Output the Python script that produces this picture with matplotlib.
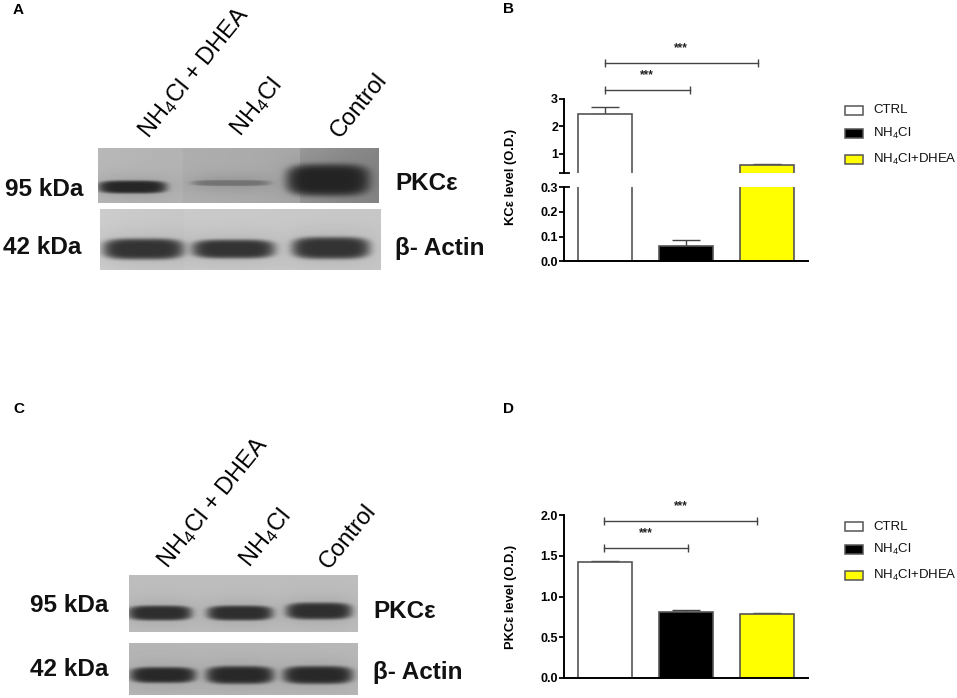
import numpy as np
import matplotlib
matplotlib.use('Agg')
import matplotlib.pyplot as plt
from matplotlib.patches import Rectangle

plt.rcParams['font.family'] = ['Liberation Sans', 'DejaVu Sans']
plt.rcParams['mathtext.default'] = 'regular'

W, H = 957, 698

groups = ['CTRL', 'NH$_4$Cl', 'NH$_4$Cl+DHEA']
colors = ['white', 'black', '#ffff00']

valsB = [2.43, 0.063, 0.60]
errB = [0.27, 0.022, 0.015]
valsD = [1.42, 0.81, 0.78]
errD = [0.022, 0.018, 0.012]

# blot panels: box, background pieces, bands (left, right, y centre, height, band grey)
blotA1 = dict(box=(98, 379, 148, 203),
              bg=[(98, 183, 0.72, 0.70), (183, 300, 0.68, 0.66), (300, 379, 0.60, 0.52)],
              bands=[(98, 167, 187, 13, 0.15), (192, 270, 183, 6, 0.45), (286, 370, 180, 32, 0.14)])
blotA2 = dict(box=(100, 381, 209, 270),
              bg=[(100, 184, 0.80, 0.78), (184, 381, 0.79, 0.78)],
              bands=[(103, 184, 249, 21, 0.20), (192, 275, 249, 19, 0.20), (292, 370, 248, 22, 0.20)])
blotC1 = dict(box=(129, 358, 575, 632),
              bg=[(129, 358, 0.74, 0.74)],
              bands=[(128, 192, 613, 15, 0.18), (207, 273, 613, 15, 0.18), (286, 352, 611, 17, 0.18)])
blotC2 = dict(box=(129, 358, 643, 695),
              bg=[(129, 358, 0.71, 0.72)],
              bands=[(130, 196, 675, 16, 0.16), (206, 274, 675, 18, 0.16), (283, 353, 675, 18, 0.16)])


def draw_blot(ax, blot):
    x0, x1, y0, y1 = blot['box']
    xx, yy = np.meshgrid(np.arange(x0, x1) + 0.5, np.arange(y0, y1) + 0.5)
    img = np.zeros(xx.shape)
    for a, b, g0, g1 in blot['bg']:
        m = (xx >= a) & (xx < b)
        img[m] = (g0 + (g1 - g0) * (xx - a) / (b - a))[m]
    for a, b, yc, h, g in blot['bands']:
        r = np.abs((xx - (a + b) / 2) / ((b - a) / 2)) ** 4 + np.abs((yy - yc) / (h / 2)) ** 3
        alpha = np.exp(-r ** 2)
        glow = 0.10 * np.exp(-(np.abs((xx - (a + b) / 2) / ((b - a) / 2 + 4)) ** 3 + np.abs((yy - yc) / (h / 2 + 7)) ** 2))
        img = img * (1 - glow)
        img = img * (1 - alpha) + g * alpha
    ax.imshow(img, cmap='gray', vmin=0, vmax=1, extent=(x0, x1, y1, y0), aspect='auto', interpolation='nearest')


def new_axes(left, right, top, bottom):
    ax = fig.add_axes([left / W, 1 - bottom / H, (right - left) / W, (bottom - top) / H])
    ax.patch.set_alpha(0)
    ax.set_xlim(-0.5, 2.5)
    ax.set_xticks([])
    for s in ['top', 'right']:
        ax.spines[s].set_visible(False)
    ax.spines['left'].set_linewidth(1.4)
    ax.spines['bottom'].set_linewidth(1.4)
    ax.tick_params(axis='y', length=3.3, width=1.3, pad=1, labelsize=9)
    return ax


def draw_bars(ax, vals, errs):
    for i in range(3):
        ax.errorbar(i, vals[i], yerr=[[0], [errs[i]]], color='#444444', capsize=10, elinewidth=1, capthick=1, zorder=1)
        ax.bar(i, vals[i], width=0.665, color=colors[i], edgecolor='#555555', linewidth=1.2, zorder=2)


def bracket(ax, x0, x1, y):
    ax.plot([x0, x1], [y, y], color='#444444', lw=1, marker='|', ms=6, mew=1, clip_on=False)
    ax.annotate('***', ((x0 + x1) / 2, y), xytext=(0, 10.5), textcoords='offset points',
                ha='center', va='center', fontsize=8.5, fontweight='bold', color='#222222', annotation_clip=False)


def legend(y_rows):
    for i in range(3):
        bg.add_patch(Rectangle((845, y_rows[i] - 4.5), 18, 9, facecolor=colors[i], edgecolor='#555555', linewidth=1.1))
        bg.text(873, y_rows[i], groups[i], fontsize=9.5, va='center', color='#111111')


fig = plt.figure(figsize=(W / 100, H / 100), dpi=100)

bg = fig.add_axes([0, 0, 1, 1])
bg.axis('off')

for b in [blotA1, blotA2, blotC1, blotC2]:
    draw_blot(bg, b)
bg.set_xlim(0, W)
bg.set_ylim(H, 0)

# panel letters
for s, x, y in [('A', 13, 10), ('B', 503, 9), ('C', 13, 409), ('D', 503, 409)]:
    bg.text(x, y, s, fontsize=11, fontweight='bold', va='center')

# lane labels
lanes = [('NH$_4$Cl + DHEA', 148, 139), ('NH$_4$Cl', 240, 137), ('Control', 340, 139),
         ('NH$_4$Cl + DHEA', 167, 569), ('NH$_4$Cl', 249, 568), ('Control', 329, 570)]
for s, x, y in lanes:
    bg.text(x, y, s, fontsize=17, rotation=51, rotation_mode='anchor', ha='left', va='baseline', color='black')

# blot side labels
side = [('95 kDa', 5, 190), ('42 kDa', 3, 248), ('PKCε', 395, 183), ('β- Actin', 395, 249),
        ('95 kDa', 30, 606), ('42 kDa', 30, 670), ('PKCε', 373, 611), ('β- Actin', 373, 672)]
for s, x, y in side:
    bg.text(x, y, s, fontsize=17.5, fontweight='bold', va='center', color='#111111')

# panel B, broken axis
ax_low = new_axes(564, 808, 187, 261.3)
ax_up = new_axes(564, 808, 98.7, 173)
ax_low.set_ylim(0, 0.3)
ax_up.set_ylim(0.3, 3)
ax_low.set_yticks([0, 0.1, 0.2, 0.3], ['0.0', '0.1', '0.2', '0.3'], fontweight='bold')
ax_up.set_yticks([0.3, 1, 2, 3], ['', '1', '2', '3'], fontweight='bold')
ax_up.spines['bottom'].set_visible(False)
draw_bars(ax_low, valsB, errB)
draw_bars(ax_up, valsB, errB)
ax_low.plot([0, 0.019], [0.3, 0.3], color='black', lw=1.3, transform=ax_low.get_yaxis_transform(), clip_on=False)
ax_up.plot([0, 0.019], [0.3, 0.3], color='black', lw=1.3, transform=ax_up.get_yaxis_transform(), clip_on=False)
bracket(ax_up, 0, 1.05, 3.33)
bracket(ax_up, 0, 1.885, 4.31)
bg.text(510.7, 176.5, 'KCε level (O.D.)', fontsize=9.4, fontweight='bold', rotation=90, ha='center', va='center')
legend([110, 133, 159])

# panel D
ax_d = new_axes(564, 808, 515.3, 677.7)
ax_d.set_ylim(0, 2)
ax_d.set_yticks([0, 0.5, 1, 1.5, 2], ['0.0', '0.5', '1.0', '1.5', '2.0'], fontweight='bold')
draw_bars(ax_d, valsD, errD)
bracket(ax_d, -0.01, 1.03, 1.6)
bracket(ax_d, -0.01, 1.875, 1.933)
bg.text(510.7, 596.7, 'PKCε level (O.D.)', fontsize=9.3, fontweight='bold', rotation=90, ha='center', va='center')
legend([526.5, 549, 575])

fig.savefig('out.png', dpi=100)
